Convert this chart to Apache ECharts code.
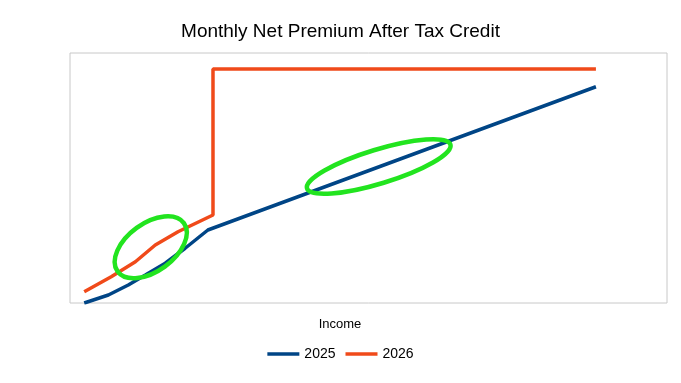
<!DOCTYPE html>
<html>
<head>
<meta charset="utf-8">
<script src="https://cdn.jsdelivr.net/npm/echarts@6/dist/echarts.min.js"></script>
<style>
  html, body { margin: 0; padding: 0; background: #fff; }
  #chart { width: 681px; height: 383px; }
</style>
</head>
<body>
<div id="chart"></div>
<script>
// Income in $ thousands (x), monthly net premium in $ (y)
const income2025  = [15, 23.5, 30.5, 36.5, 43.5, 50.5, 58.5, 195];
const premium2025 = [0, 32, 72, 112, 159, 219, 292, 865];
const income2026  = [15, 24.5, 33, 40, 48, 60.3, 60.3, 195];
const premium2026 = [45, 105, 165, 232, 285, 352, 936, 936];
const seriesNames = ['2025', '2026'];
// Highlight ellipses (anchored in data coordinates)
const highlightIncome  = [38.4, 118.6];
const highlightPremium = [223, 546];

const chart = echarts.init(document.getElementById('chart'));
const font = '"Liberation Sans", Arial, sans-serif';

const option = {
  animation: false,
  backgroundColor: '#fff',
  title: {
    text: 'Monthly Net Premium After Tax Credit',
    left: 'center',
    top: 17,
    textStyle: { fontFamily: font, fontSize: 19, fontWeight: 'normal', color: '#000' }
  },
  legend: {
    data: seriesNames,
    top: 342,
    left: 'center',
    icon: 'rect',
    itemWidth: 32,
    itemHeight: 3.5,
    itemGap: 10,
    textStyle: { fontFamily: font, fontSize: 14, color: '#000' }
  },
  grid: {
    left: 70, right: 14, top: 53, bottom: 80,
    show: true, borderColor: '#c8c8c8', borderWidth: 1, backgroundColor: '#fff'
  },
  xAxis: {
    type: 'value',
    min: 10, max: 220,
    name: 'Income',
    nameLocation: 'middle',
    nameGap: 15,
    nameTextStyle: { fontFamily: font, fontSize: 13, color: '#000', padding: [0, 57, 0, 0] },
    axisLine: { show: false },
    axisTick: { show: false },
    axisLabel: { show: false },
    splitLine: { show: false }
  },
  yAxis: {
    type: 'value',
    min: 0, max: 1000,
    axisLine: { show: false },
    axisTick: { show: false },
    axisLabel: { show: false },
    splitLine: { show: false }
  },
  series: [
    {
      name: seriesNames[0],
      type: 'line',
      symbol: 'none',
      data: income2025.map((x, i) => [x, premium2025[i]]),
      lineStyle: { color: '#004586', width: 3.5 },
      itemStyle: { color: '#004586' }
    },
    {
      name: seriesNames[1],
      type: 'line',
      symbol: 'none',
      data: income2026.map((x, i) => [x, premium2026[i]]),
      lineStyle: { color: '#f04a1a', width: 3.5 },
      itemStyle: { color: '#f04a1a' }
    }
  ]
};
chart.setOption(option);

const ellipseSpec = [
  { rx: 41, ry: 24, rot: 36 },
  { rx: 75, ry: 17, rot: 17 }
];
const graphics = highlightIncome.map((x, i) => {
  const p = chart.convertToPixel({ gridIndex: 0 }, [x, highlightPremium[i]]);
  return {
    type: 'ellipse',
    x: p[0], y: p[1],
    rotation: ellipseSpec[i].rot * Math.PI / 180,
    shape: { cx: 0, cy: 0, rx: ellipseSpec[i].rx, ry: ellipseSpec[i].ry },
    style: { fill: 'none', stroke: '#22e41f', lineWidth: 4.5 },
    z: 100
  };
});
chart.setOption({ graphic: graphics });
</script>
</body>
</html>
